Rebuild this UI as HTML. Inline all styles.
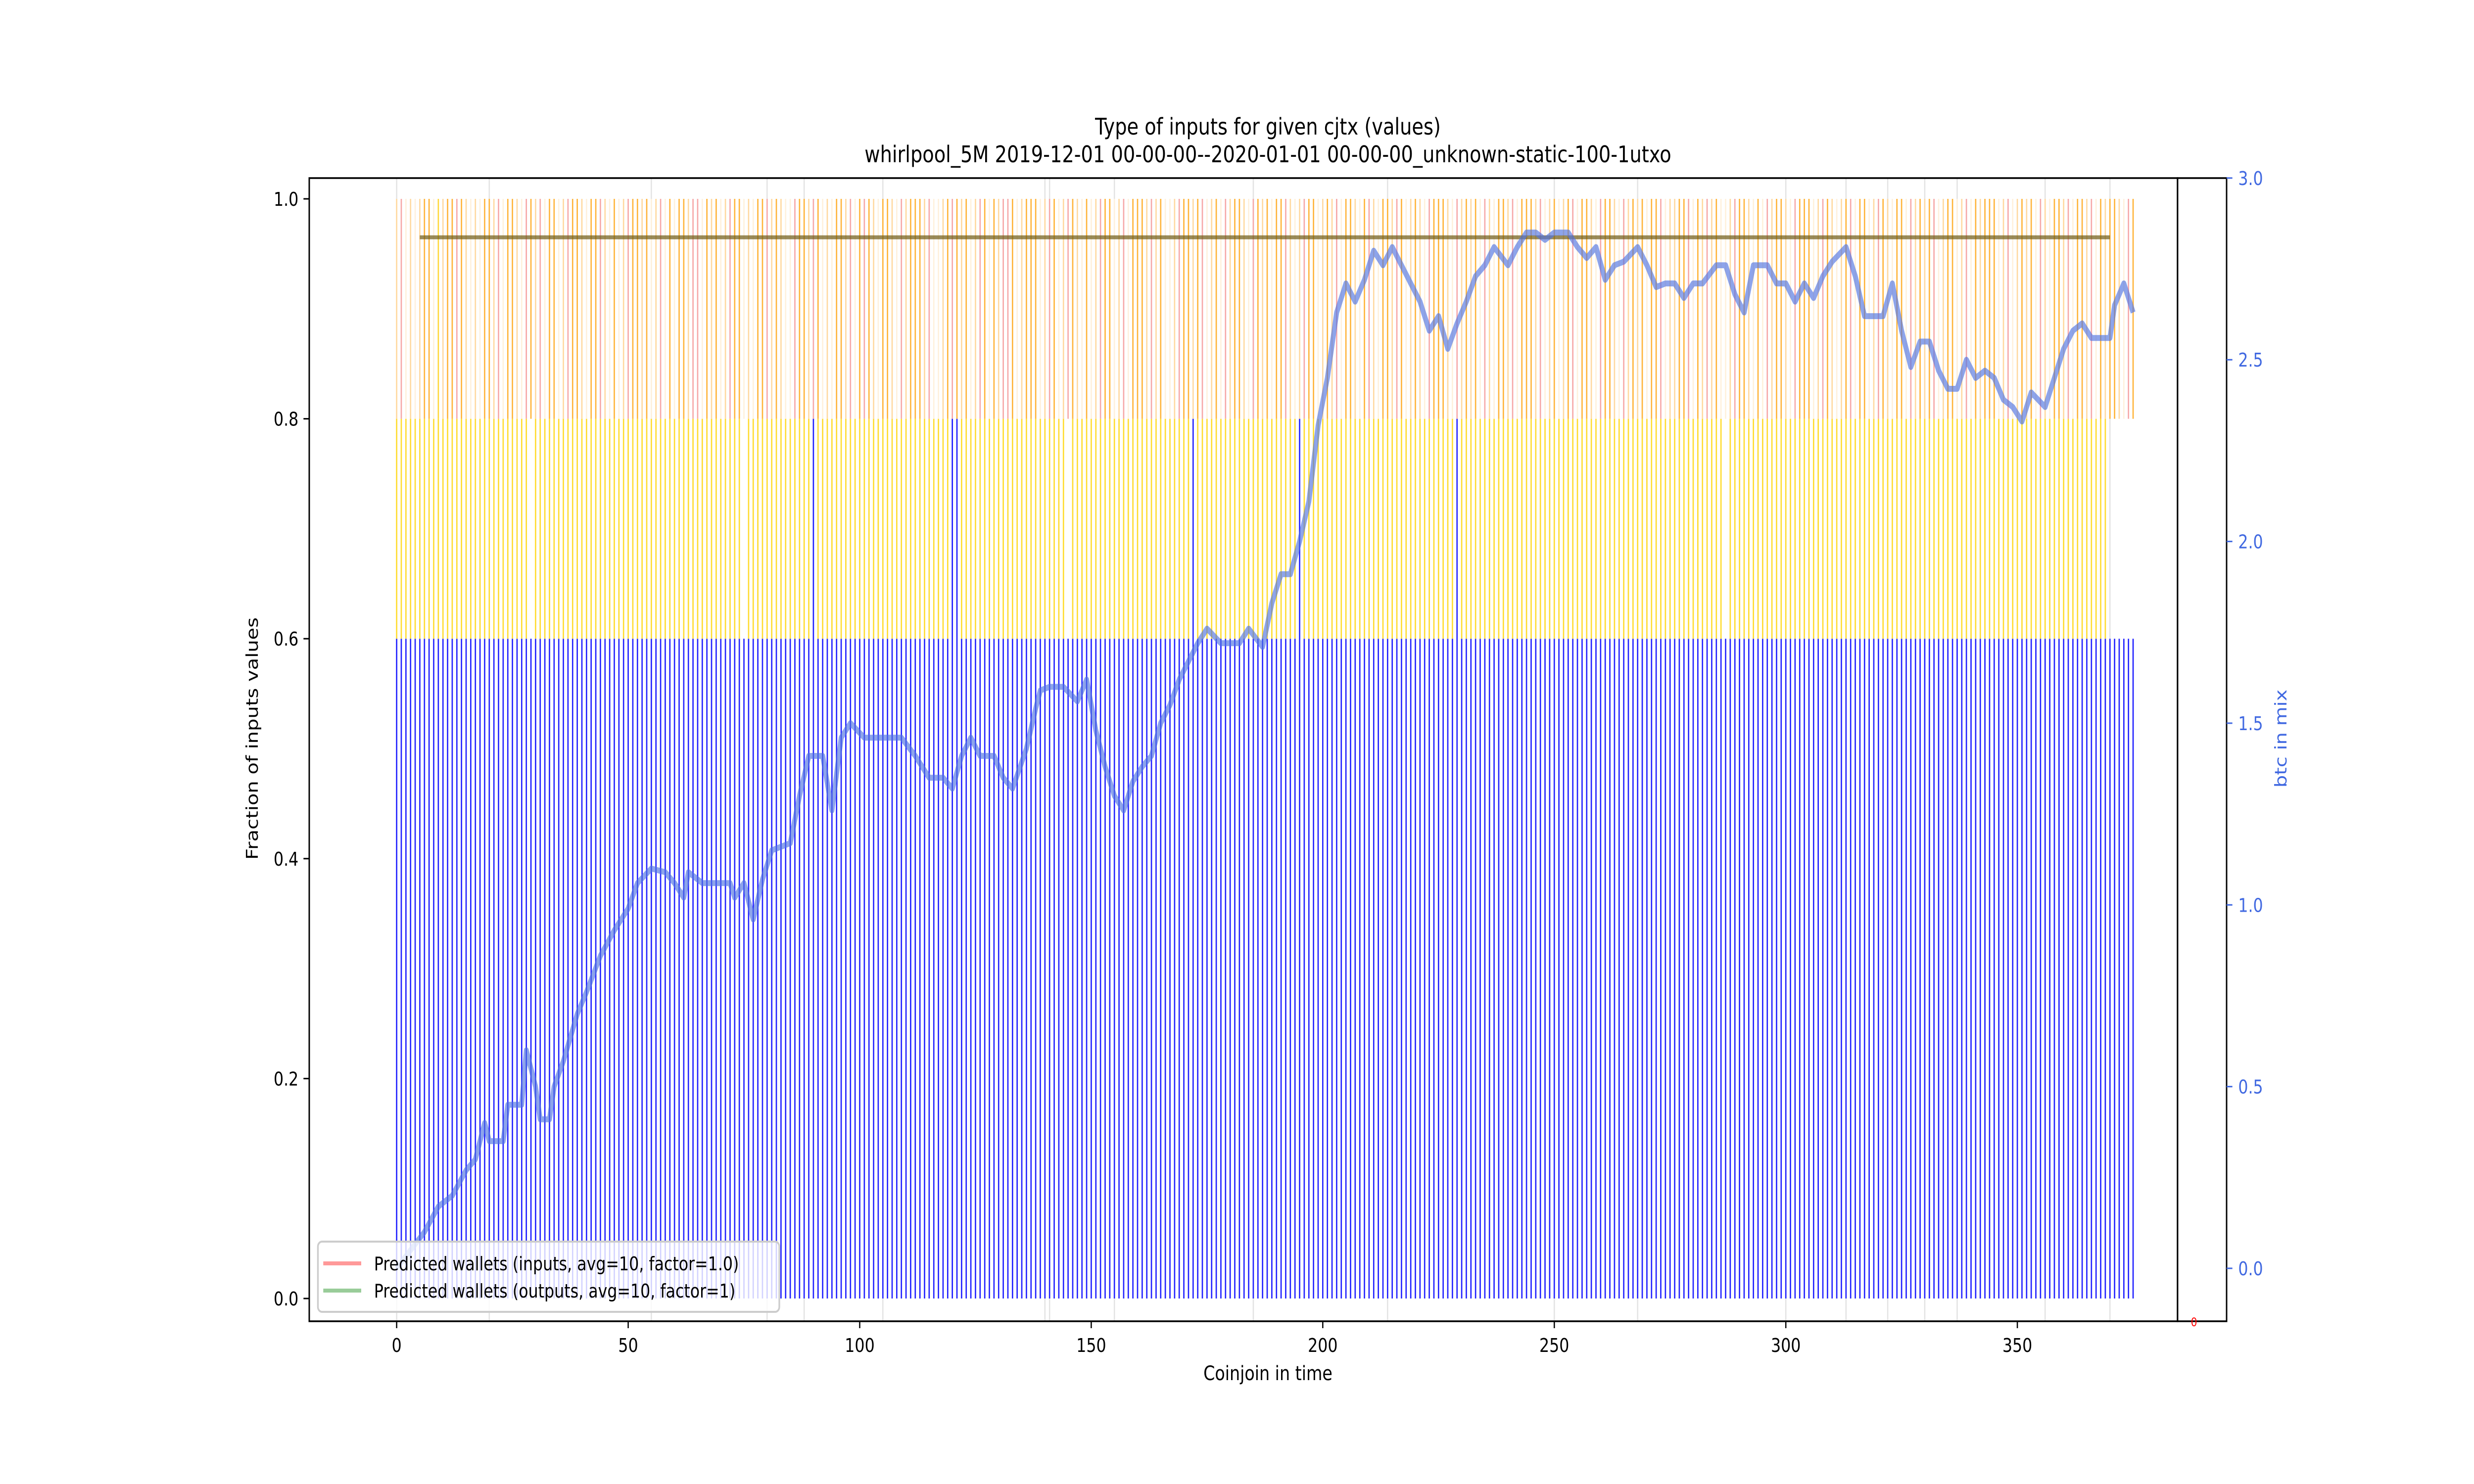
<!DOCTYPE html>
<html><head><meta charset="utf-8"><title>Type of inputs for given cjtx (values)</title>
<style>html,body{margin:0;padding:0;background:#fff;width:100%;height:100%;overflow:hidden}svg{display:block;position:fixed;left:0;top:0;width:100vw;height:100vh}text{font-family:"DejaVu Sans","Liberation Sans",sans-serif}</style>
</head><body>
<svg id="chart" xmlns="http://www.w3.org/2000/svg" viewBox="0 0 6000 3000" preserveAspectRatio="none">
<rect width="6000" height="3000" fill="#fff"/>
<g id="grid"></g>
<g id="bars"></g>
<g id="lines"></g>
<g id="axes"></g>
<text x="3075" y="272" text-anchor="middle" font-size="46">Type of inputs for given cjtx (values)</text>
<text x="3075" y="328" text-anchor="middle" font-size="46">whirlpool_5M 2019-12-01 00-00-00--2020-01-01 00-00-00_unknown-static-100-1utxo</text>
<text x="3075" y="2790" text-anchor="middle" font-size="40">Coinjoin in time</text>
<text transform="translate(625,1493) rotate(-90)" text-anchor="middle" font-size="40">Fraction of inputs values</text>
<text transform="translate(5545,1493) rotate(-90)" text-anchor="middle" font-size="40" fill="#4169e1">btc in mix</text>
<g>
<rect x="771" y="2510" width="1119" height="142" rx="10" fill="rgba(255,255,255,0.8)" stroke="#cccccc" stroke-width="4"/>
<line x1="784" y1="2554" x2="876" y2="2554" stroke="#ff9999" stroke-width="8"/>
<text x="907" y="2568" font-size="38">Predicted wallets (inputs, avg=10, factor=1.0)</text>
<line x1="784" y1="2609" x2="876" y2="2609" stroke="#99cc99" stroke-width="8"/>
<text x="907" y="2623" font-size="38">Predicted wallets (outputs, avg=10, factor=1)</text>
</g>
</svg>
<script>
// ---- data ----
const barCount = 376;
const topColorCodes = "lrwlwloowgloorolwlwoolrwoolwrolrwoowlroolwoorlwowlroolowlrwowoolrrwolowlroowlwoorlolwwroolrowlwoolrworolwoolwrlooolrwwlorolowlrowolrrowlooowlrowlrolwowlroowlrwooolrlowwlroolorwlowrloolwrolowoorlwlroowlolrwoolworlwoolrowlolwrooolwrlolowrlwoolrwooolrwlowlorwoolwroolwrlolowoorwlloorwolrlowwlroolwowrloolwrooowlrolwlorwoowlrolwoowrlolorwloowlrwolooowlrwlolowrlwoolrwoolrwoloolwrowlrolwooolrwl";
const midPresent = "1111111111111111111111111111101111111111111111111111111111111111111111111110111111111111111111111111111111111111111111111111111111111111111111111011111111111111111111111111111111111111111111111111111111111111111111111111111111111111111111111111111111111111111111111111111111111111111111101111111111111111111111111111111111111111111111111111111111111111111111111111111111";
const tallBlue = [90, 120, 121, 172, 195, 229];
const eventLines = [0, 20, 55, 80, 88, 105, 140, 141, 155, 185, 214, 250, 268, 300, 313, 322, 330, 337, 356, 370];
const avgLineX = [5, 370];
const avgLineY = [0.965, 0.965];
const btcX = [0,3,6,9,12,15,17,19,20,23,24,27,28,30,31,33,34,36,39,41,44,47,50,52,55,58,60,62,63,66,70,72,73,75,77,79,81,85,87,89,92,94,96,98,101,105,109,112,115,118,120,122,124,126,129,131,133,136,138,139,141,144,147,149,151,153,155,157,159,161,163,165,167,169,171,173,175,178,180,182,184,187,189,191,193,195,197,199,201,203,205,207,209,211,213,215,217,219,221,223,225,227,229,231,233,235,237,240,242,244,246,248,250,253,255,257,259,261,263,265,268,270,272,274,276,278,280,282,285,287,289,291,293,296,298,300,302,304,306,308,310,313,315,317,319,321,323,325,327,329,331,333,335,337,339,341,343,345,347,349,351,353,356,358,360,362,364,366,368,370,371,373,375];
const btcY = [0.0,0.05,0.10,0.17,0.2,0.27,0.3,0.4,0.35,0.35,0.45,0.45,0.6,0.5,0.41,0.41,0.5,0.57,0.7,0.76,0.86,0.93,0.99,1.06,1.10,1.09,1.06,1.02,1.09,1.06,1.06,1.06,1.02,1.06,0.96,1.07,1.15,1.17,1.30,1.41,1.41,1.26,1.46,1.5,1.46,1.46,1.46,1.41,1.35,1.35,1.32,1.41,1.46,1.41,1.41,1.35,1.32,1.43,1.54,1.59,1.60,1.60,1.56,1.62,1.48,1.38,1.30,1.26,1.34,1.38,1.41,1.50,1.55,1.62,1.67,1.72,1.76,1.72,1.72,1.72,1.76,1.71,1.83,1.91,1.91,2.0,2.11,2.32,2.45,2.63,2.71,2.66,2.72,2.80,2.76,2.81,2.76,2.71,2.66,2.58,2.62,2.53,2.60,2.66,2.73,2.76,2.81,2.76,2.81,2.85,2.85,2.83,2.85,2.85,2.81,2.78,2.81,2.72,2.76,2.77,2.81,2.76,2.70,2.71,2.71,2.67,2.71,2.71,2.76,2.76,2.68,2.63,2.76,2.76,2.71,2.71,2.66,2.71,2.67,2.73,2.77,2.81,2.73,2.62,2.62,2.62,2.71,2.58,2.48,2.55,2.55,2.47,2.42,2.42,2.5,2.45,2.47,2.45,2.39,2.37,2.33,2.41,2.37,2.45,2.53,2.58,2.60,2.56,2.56,2.56,2.65,2.71,2.63];
const xTicks = [0, 50, 100, 150, 200, 250, 300, 350];
const yTicks = [0.0, 0.2, 0.4, 0.6, 0.8, 1.0];
const y2Ticks = [0.0, 0.5, 1.0, 1.5, 2.0, 2.5, 3.0];
const yTickLabels = ["0.0", "0.2", "0.4", "0.6", "0.8", "1.0"];
const y2TickLabels = ["0.0", "0.5", "1.0", "1.5", "2.0", "2.5", "3.0"];

// ---- scales ----
const L = 750, R = 5281, T = 360, B = 2671, R2 = 5400;
function sx(v) { return 962 + 11.23 * v; }
function sy(v) { return 2625 - 2223 * v; }
function sy2(v) { return 2564 - 734.7 * v; }
const NS = "http://www.w3.org/2000/svg";
function mk(tag, attrs, parent) {
  const e = document.createElementNS(NS, tag);
  for (const k in attrs) e.setAttribute(k, attrs[k]);
  parent.appendChild(e);
  return e;
}
const colorMap = { r: "#f6a8a8", o: "#ffb43a", l: "#ffd9a0", w: "#fff1dc", g: "#ffd83a" };

const grid = document.getElementById("grid");
eventLines.forEach(v => {
  const e = mk("line", { x1: sx(v), x2: sx(v), y1: T, y2: B, stroke: "#e3e3e3", "stroke-width": 3 }, grid);
  
  
});

const bars = document.getElementById("bars");
for (let i = 0; i < barCount; i++) {
  const x = sx(i);
  const tall = tallBlue.indexOf(i) >= 0;
  const b = mk("line", { x1: x, x2: x, y1: sy(0), y2: sy(tall ? 0.8 : 0.6), stroke: "#2222ff", "stroke-width": 3.2 }, bars);
  
  
  if (!tall && midPresent[i] === "1") {
    const m = mk("line", { x1: x, x2: x, y1: sy(0.6), y2: sy(0.8), stroke: "#ffdc30", "stroke-width": 3.2 }, bars);
    
    
  }
  const c = colorMap[topColorCodes[i]] || "#ffd9a0";
  const t = mk("line", { x1: x, x2: x, y1: sy(0.8), y2: sy(1.0), stroke: c, "stroke-width": 3.2 }, bars);
  
  
}

const lines = document.getElementById("lines");
const avg = mk("line", { x1: sx(avgLineX[0]), x2: sx(avgLineX[1]), y1: sy(avgLineY[0]), y2: sy(avgLineY[1]), stroke: "rgba(110,90,20,0.7)", "stroke-width": 8 }, lines);


let d = "";
btcX.forEach((v, i) => { d += (i ? "L" : "M") + sx(v).toFixed(1) + "," + sy2(btcY[i]).toFixed(1); });
const bl = mk("path", { d: d, fill: "none", stroke: "rgba(80,115,225,0.65)", "stroke-width": 12, "stroke-linejoin": "round" }, lines);



const axes = document.getElementById("axes");
const frame = mk("rect", { x: L, y: T, width: R - L, height: B - T, fill: "none", stroke: "#000", "stroke-width": 3.5 }, axes);


const frame2 = mk("rect", { x: R, y: T, width: R2 - R, height: B - T, fill: "none", stroke: "#000", "stroke-width": 3.5 }, axes);


xTicks.forEach(v => {
  const tk = mk("line", { x1: sx(v), x2: sx(v), y1: B, y2: B + 14, stroke: "#000", "stroke-width": 3 }, axes);
  
  
  const tl = mk("text", { x: sx(v), y: B + 62, "text-anchor": "middle", "font-size": 38 }, axes);
  tl.textContent = String(v);
  
  
});
yTicks.forEach((v, i) => {
  const tk = mk("line", { x1: L - 14, x2: L, y1: sy(v), y2: sy(v), stroke: "#000", "stroke-width": 3 }, axes);
  
  
  const tl = mk("text", { x: L - 26, y: sy(v) + 14, "text-anchor": "end", "font-size": 38 }, axes);
  tl.textContent = yTickLabels[i];
  
  
});
y2Ticks.forEach((v, i) => {
  const tk = mk("line", { x1: R2, x2: R2 + 14, y1: sy2(v), y2: sy2(v), stroke: "#4169e1", "stroke-width": 3 }, axes);
  
  
  const tl = mk("text", { x: R2 + 28, y: sy2(v) + 14, "font-size": 38, fill: "#4169e1" }, axes);
  tl.textContent = y2TickLabels[i];
  
  
});
const rz = mk("text", { x: 5321, y: B + 10, "text-anchor": "middle", "font-size": 24, fill: "#ff0000" }, axes);
rz.textContent = "0";


</script>
</body></html>
